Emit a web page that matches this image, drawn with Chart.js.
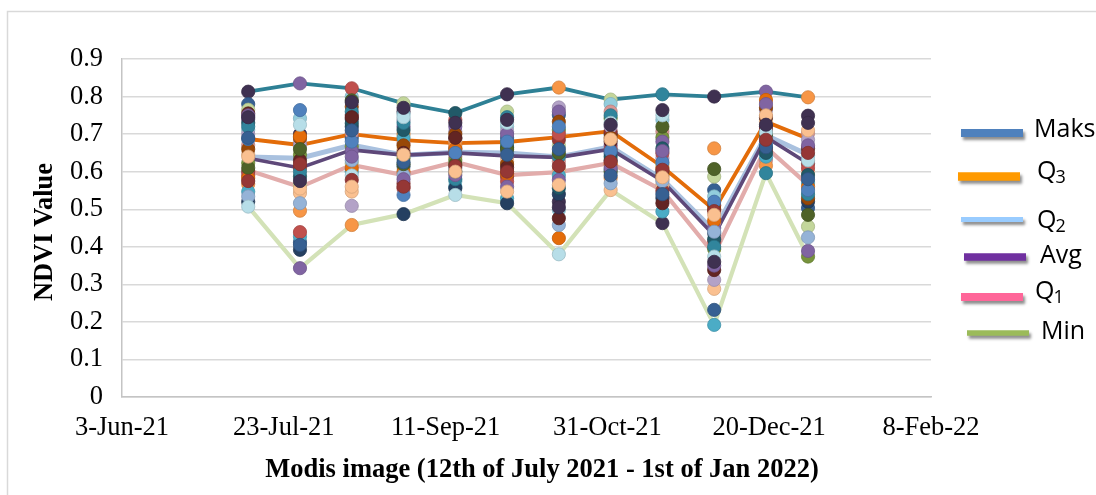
<!DOCTYPE html>
<html><head><meta charset="utf-8">
<script src="https://cdn.jsdelivr.net/npm/chart.js@4/dist/chart.umd.min.js"></script>
<style>html,body{margin:0;padding:0;background:#fff;overflow:hidden}#wrap{position:relative;width:1096px;height:495px}</style>
</head><body><div id="wrap"><canvas id="c" width="1096" height="495"></canvas></div>
<script>
// ---- data ----
const dates = ['2021-07-12','2021-07-28','2021-08-13','2021-08-29','2021-09-14','2021-09-30','2021-10-16','2021-11-01','2021-11-17','2021-12-03','2021-12-19','2022-01-01'];
const axisStart = '2021-06-03';
const axisEnd = '2022-02-08';
const yTicks = [0,0.1,0.2,0.3,0.4,0.5,0.6,0.7,0.8,0.9];
const statLabels = ['Maks','Q3','Q2','Avg','Q1','Min'];
const maks = [0.813,0.835,0.822,0.782,0.756,0.806,0.824,0.792,0.806,0.800,0.813,0.798];
const q3   = [0.687,0.671,0.700,0.684,0.676,0.679,0.692,0.708,0.613,0.498,0.733,0.688];
const q2   = [0.639,0.636,0.671,0.644,0.652,0.650,0.639,0.666,0.580,0.442,0.697,0.645];
const avg  = [0.636,0.610,0.658,0.644,0.650,0.642,0.638,0.660,0.575,0.430,0.692,0.622];
const q1   = [0.604,0.559,0.618,0.591,0.626,0.591,0.599,0.623,0.550,0.380,0.665,0.565];
const minv = [0.507,0.343,0.458,0.487,0.538,0.516,0.380,0.551,0.463,0.192,0.596,0.374];
// individual sample points (one array per sample)
const s01 = [0.813,0.700,0.740,0.760,0.689,0.806,0.520,0.700,0.463,0.800,0.720,0.749];
const s02 = [0.780,0.412,0.690,0.614,0.662,0.690,0.751,0.649,0.600,0.551,0.700,0.503];
const s03 = [0.765,0.565,0.622,0.782,0.600,0.760,0.670,0.792,0.620,0.587,0.740,0.454];
const s04 = [0.711,0.742,0.800,0.753,0.574,0.720,0.498,0.780,0.738,0.534,0.680,0.643];
const s05 = [0.671,0.680,0.702,0.676,0.640,0.640,0.627,0.760,0.707,0.463,0.631,0.702];
const s06 = [0.646,0.543,0.547,0.658,0.680,0.627,0.605,0.551,0.565,0.288,0.733,0.600];
const s07 = [0.623,0.645,0.667,0.636,0.631,0.676,0.711,0.742,0.691,0.394,0.691,0.374];
const s08 = [0.600,0.611,0.751,0.569,0.649,0.587,0.685,0.707,0.549,0.510,0.711,0.622];
const s09 = [0.567,0.496,0.458,0.700,0.670,0.600,0.824,0.583,0.580,0.662,0.616,0.798];
const s10 = [0.547,0.427,0.600,0.690,0.560,0.529,0.590,0.605,0.494,0.192,0.640,0.570];
const s11 = [0.520,0.392,0.720,0.487,0.556,0.516,0.540,0.630,0.530,0.436,0.660,0.520];
const s12 = [0.700,0.671,0.509,0.738,0.707,0.707,0.771,0.720,0.636,0.312,0.764,0.685];
const s13 = [0.740,0.835,0.655,0.720,0.720,0.700,0.760,0.670,0.680,0.450,0.813,0.389];
const s14 = [0.590,0.439,0.822,0.556,0.738,0.574,0.700,0.660,0.649,0.414,0.658,0.610];
const s15 = [0.730,0.587,0.729,0.711,0.756,0.665,0.556,0.640,0.662,0.420,0.650,0.591];
const s16 = [0.660,0.690,0.773,0.670,0.700,0.620,0.733,0.690,0.590,0.500,0.770,0.529];
const s17 = [0.583,0.694,0.610,0.600,0.660,0.595,0.423,0.620,0.610,0.470,0.791,0.560];
const s18 = [0.534,0.516,0.630,0.591,0.609,0.654,0.458,0.569,0.575,0.440,0.690,0.425];
const s19 = [0.720,0.600,0.760,0.730,0.580,0.745,0.640,0.750,0.806,0.400,0.596,0.540];
const s20 = [0.755,0.630,0.745,0.650,0.690,0.611,0.476,0.680,0.516,0.338,0.745,0.662];
const s21 = [0.610,0.660,0.790,0.620,0.620,0.660,0.649,0.600,0.720,0.607,0.700,0.485];
const s22 = [0.507,0.725,0.590,0.745,0.538,0.730,0.380,0.730,0.750,0.374,0.705,0.630];
const s23 = [0.687,0.764,0.680,0.538,0.650,0.680,0.720,0.655,0.625,0.520,0.675,0.551];
const s24 = [0.750,0.343,0.640,0.580,0.591,0.560,0.578,0.610,0.655,0.350,0.780,0.670];
const s25 = [0.690,0.405,0.710,0.625,0.600,0.645,0.660,0.590,0.540,0.232,0.665,0.580];
const s26 = [0.575,0.620,0.578,0.560,0.615,0.600,0.615,0.627,0.605,0.495,0.685,0.650];
const s27 = [0.640,0.555,0.560,0.645,0.600,0.547,0.565,0.686,0.585,0.485,0.750,0.710];
const s28 = [0.745,0.575,0.785,0.770,0.730,0.738,0.505,0.725,0.764,0.360,0.725,0.730];
const samples = [s01,s02,s03,s04,s05,s06,s07,s08,s09,s10,s11,s12,s13,s14,s15,s16,s17,s18,s19,s20,s21,s22,s23,s24,s25,s26,s27,s28];

// ---- styles ----
const samplePalette = ['#3F3151','#376092','#C3D69B','#93CDDD','#D99694','#FAC090','#77933C','#953735','#F79646','#4BACC6','#254061','#B3A2C7','#8064A2','#C0504D','#215968','#984807','#E46C0A','#95B3D7','#31859C','#632523','#4F6228','#B7DEE8','#4F81BD','#8064A2','#376092','#953735','#FAC090','#3F3151'];
const lineColors = ['#2E8095','#E36C09','#A9C1DF','#5E4879','#E2ACAB','#D3E2B7'];
const lineWidths = [3.8,3.8,5,3.6,4.2,4.2];
const legendColors = ['#4F81BD','#FF9A00','#99CCFF','#7030A0','#FF6699','#9BBB59'];
const legendLayout = [
  {x1:961,x2:1023,y:133,w:8,tx:1034,ty:137},
  {x1:958,x2:1020,y:176.5,w:8.5,tx:1037,ty:179},
  {x1:961,x2:1023,y:219.5,w:5,tx:1037,ty:227.5},
  {x1:964,x2:1026,y:257,w:7.5,tx:1040,ty:262.5},
  {x1:961,x2:1023,y:297,w:8,tx:1035,ty:299},
  {x1:967,x2:1029,y:333,w:5.5,tx:1041,ty:339}
];

const DAY = 86400000;
const MON = ['Jan','Feb','Mar','Apr','May','Jun','Jul','Aug','Sep','Oct','Nov','Dec'];
function ms(s){const [y,m,d]=s.split('-').map(Number);return Date.UTC(y,m-1,d);}
const origin = ms(axisStart);
function toDay(s){return (ms(s)-origin)/DAY;}
function fmt(v){const d=new Date(origin+v*DAY);return d.getUTCDate()+'-'+MON[d.getUTCMonth()]+'-'+String(d.getUTCFullYear()).slice(2);}
const xs = dates.map(toDay);
function pts(arr){return arr.map((v,i)=>({x:xs[i],y:v}));}
function darken(hex,f){const n=parseInt(hex.slice(1),16);const r=Math.round(((n>>16)&255)*f),g=Math.round(((n>>8)&255)*f),b=Math.round((n&255)*f);return 'rgb('+r+','+g+','+b+')';}

const datasets = [];
const statSeries = [maks,q3,q2,avg,q1,minv];
statSeries.forEach((arr,i)=>{
  datasets.push({type:'line',label:statLabels[i],data:pts(arr),borderColor:lineColors[i],borderWidth:lineWidths[i],pointRadius:0,tension:0,fill:false,order:1000-i});
});
samples.forEach((arr,i)=>{
  const c = samplePalette[i];
  datasets.push({type:'scatter',label:'p'+(i+1),data:pts(arr),showLine:false,pointRadius:6.6,pointBackgroundColor:c,pointBorderColor:darken(c,0.85),pointBorderWidth:0.8,order:500-i});
});

const serif = "'Liberation Serif','Times New Roman',serif";
const sans = "'Open Sans','Liberation Sans',sans-serif";

const decor = {
  id:'decor',
  beforeDraw(chart){
    const ctx=chart.ctx; ctx.save();
    ctx.strokeStyle='#D9D9D9'; ctx.lineWidth=1.5;
    ctx.strokeRect(7.5,11.5,1300,700);
    ctx.restore();
  },
  afterDraw(chart){
    const ctx=chart.ctx; ctx.save();
    ctx.fillStyle='#000';
    ctx.font='bold 26.5px '+serif;
    ctx.textAlign='center'; ctx.textBaseline='middle';
    ctx.fillText('Modis image (12th of July 2021 - 1st of Jan 2022)',542,470);
    ctx.save(); ctx.translate(45,232); ctx.rotate(-Math.PI/2);
    ctx.fillText('NDVI Value',0,0); ctx.restore();
    statLabels.forEach((lab,i)=>{
      const L=legendLayout[i];
      ctx.save();
      ctx.shadowColor='rgba(0,0,0,0.45)'; ctx.shadowOffsetX=2; ctx.shadowOffsetY=3; ctx.shadowBlur=3;
      ctx.fillStyle=legendColors[i];
      ctx.fillRect(L.x1,L.y-L.w/2,L.x2-L.x1,L.w);
      ctx.restore();
      ctx.fillStyle='#000'; ctx.textAlign='left'; ctx.textBaseline='alphabetic';
      ctx.font='25px '+sans;
      if(lab[0]==='Q'){
        ctx.fillText('Q',L.tx,L.ty);
        const w=ctx.measureText('Q').width;
        ctx.font='18px '+sans;
        ctx.fillText(lab.slice(1),L.tx+w-1,L.ty+4);
      } else ctx.fillText(lab,L.tx,L.ty);
    });
    ctx.restore();
  }
};

new Chart(document.getElementById('c'),{
  data:{datasets},
  options:{
    responsive:false, animation:false, events:[],
    layout:{padding:{left:0,top:59,right:165,bottom:0}},
    plugins:{legend:{display:false},tooltip:{enabled:false},title:{display:false}},
    scales:{
      x:{type:'linear',min:toDay(axisStart),max:toDay(axisEnd),
        afterFit(s){s.height=98;},
        afterBuildTicks(s){s.ticks=[0,50,100,150,200,250].map(v=>({value:toDay(axisStart)+v}));},
        grid:{display:false,drawTicks:false},
        border:{display:true,color:'#C4C4C4',width:1.5},
        ticks:{callback:v=>fmt(v),font:{family:serif,size:26.5},color:'#000',padding:15,maxRotation:0,autoSkip:false}},
      y:{type:'linear',min:0,max:0.9,
        afterFit(s){s.width=122;},
        afterBuildTicks(s){s.ticks=yTicks.map(v=>({value:v}));},
        grid:{color:'#D9D9D9',lineWidth:1.4,drawTicks:false},
        border:{display:true,color:'#C4C4C4',width:1.5},
        ticks:{callback:v=>v===0?'0':v.toFixed(1),font:{family:serif,size:26.5},color:'#000',padding:19}}
    }
  },
  plugins:[decor]
});
</script></body></html>
